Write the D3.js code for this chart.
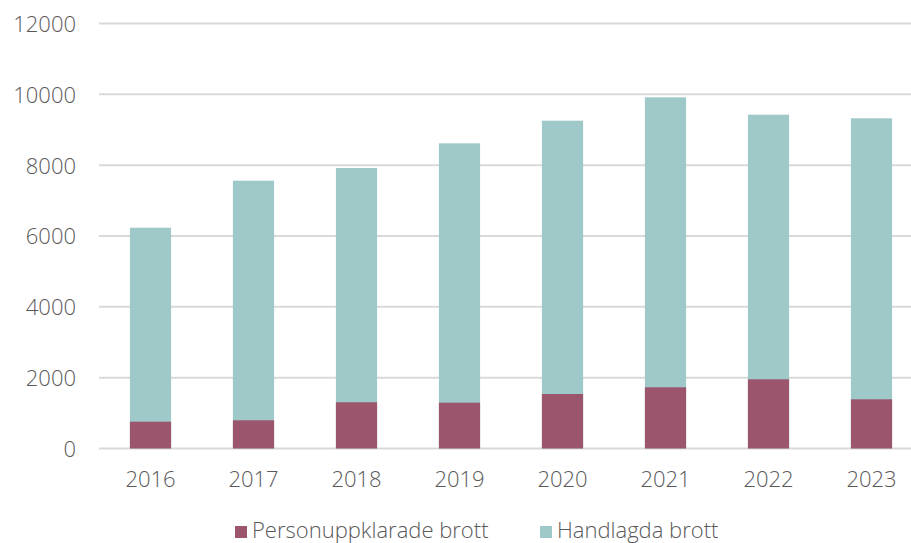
<!DOCTYPE html>
<html>
<head>
<meta charset="utf-8">
<script src="https://cdn.jsdelivr.net/npm/d3@7"></script>
<style>
  body { margin: 0; background: #fff; }
  svg text { font-family: "Open Sans", sans-serif; font-weight: 300; fill: #595959; }
</style>
</head>
<body>
<svg id="chart" width="911" height="543"></svg>
<script>
const years = ["2016", "2017", "2018", "2019", "2020", "2021", "2022", "2023"];
const handlagda = [6234, 7562, 7920, 8617, 9256, 9916, 9425, 9323];
const personuppklarade = [757, 796, 1305, 1294, 1539, 1728, 1954, 1389];
const yTicks = [0, 2000, 4000, 6000, 8000, 10000, 12000];
const seriesNames = ["Personuppklarade brott", "Handlagda brott"];
const colors = { red: "#9b566d", teal: "#9fc9c8" };

const svg = d3.select("#chart");
const margin = { top: 23.5, left: 99, bottom: 94.5 };
const plotRight = 923;
const plotBottom = 543 - margin.bottom;

const x = d3.scaleBand()
    .domain(years)
    .range([margin.left, plotRight])
    .paddingInner(0.6)
    .paddingOuter(0.3);

const y = d3.scaleLinear()
    .domain([0, 12000])
    .range([plotBottom, margin.top]);

// gridlines
svg.append("g")
    .selectAll("line")
    .data(yTicks)
    .join("line")
    .attr("x1", margin.left)
    .attr("x2", plotRight)
    .attr("y1", d => y(d))
    .attr("y2", d => y(d))
    .attr("stroke", "#d9d9d9")
    .attr("stroke-width", 2);

// y axis labels
const yAxis = d3.axisLeft(y).tickValues(yTicks).tickFormat(d3.format("d")).tickSize(0).tickPadding(0);
svg.append("g")
    .attr("transform", `translate(76,0)`)
    .call(yAxis)
    .call(g => g.select(".domain").remove())
    .selectAll("text")
    .attr("dy", "0.36em")
    .style("font-size", "22px");

// x axis labels
const xAxis = d3.axisBottom(x).tickSize(0).tickPadding(0);
svg.append("g")
    .attr("transform", `translate(0,${plotBottom})`)
    .call(xAxis)
    .call(g => g.select(".domain").remove())
    .selectAll("text")
    .attr("y", 38)
    .attr("dy", 0)
    .style("font-size", "22px");

const rows = years.map((yr, i) => ({ year: yr, total: handlagda[i], solved: personuppklarade[i] }));

// bars
svg.append("g")
    .selectAll("rect")
    .data(rows)
    .join("rect")
    .attr("x", d => x(d.year))
    .attr("width", x.bandwidth())
    .attr("y", d => y(d.total))
    .attr("height", d => y(0) - y(d.total))
    .attr("fill", colors.teal);

svg.append("g")
    .selectAll("rect")
    .data(rows)
    .join("rect")
    .attr("x", d => x(d.year))
    .attr("width", x.bandwidth())
    .attr("y", d => y(d.solved))
    .attr("height", d => y(0) - y(d.solved))
    .attr("fill", colors.red);

// legend
const legend = svg.append("g");
const legendItems = [
    { name: seriesNames[0], color: colors.red, x: 235 },
    { name: seriesNames[1], color: colors.teal, x: 540 }
];
legendItems.forEach(item => {
    legend.append("rect")
        .attr("x", item.x)
        .attr("y", 526)
        .attr("width", 12)
        .attr("height", 12)
        .attr("fill", item.color);
    legend.append("text")
        .attr("x", item.x + 17)
        .attr("y", 538)
        .style("font-size", "22px")
        .text(item.name);
});
</script>
</body>
</html>
